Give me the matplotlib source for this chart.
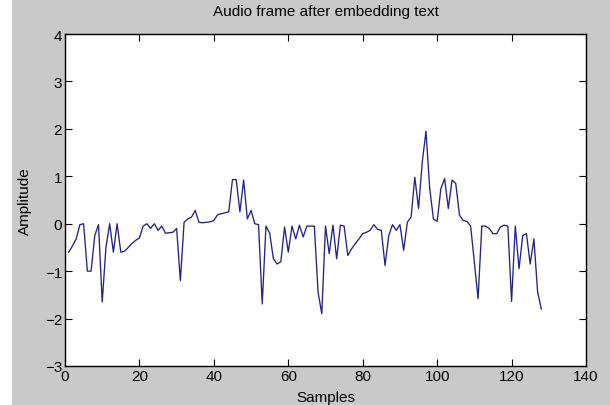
import numpy as np
import matplotlib
matplotlib.use("Agg")
from matplotlib import pyplot as plt
from matplotlib.patches import Rectangle

plt.rcParams['font.family'] = ['Liberation Sans', 'DejaVu Sans']

# amplitude per sample, 128 samples of the frame
amp_1_32 = [-0.60, -0.47, -0.32, -0.02, 0.00, -1.00, -1.00, -0.25, -0.02, -1.65,
            -0.50, 0.00, -0.60, 0.00, -0.60, -0.58, -0.50, -0.42, -0.35, -0.30,
            -0.05, 0.00, -0.10, 0.00, -0.14, -0.05, -0.20, -0.19, -0.18, -0.10,
            -1.20, 0.03]
amp_33_64 = [0.10, 0.14, 0.28, 0.03, 0.02, 0.03, 0.04, 0.07, 0.19, 0.21,
             0.23, 0.25, 0.93, 0.93, 0.25, 0.92, 0.10, 0.28, 0.00, -0.02,
             -1.69, -0.05, -0.20, -0.74, -0.85, -0.80, -0.07, -0.60, -0.05, -0.32,
             -0.03, -0.28]
amp_65_96 = [-0.05, -0.05, -0.05, -1.44, -1.90, -0.05, -0.63, -0.03, -0.74, -0.03,
             -0.05, -0.67, -0.53, -0.42, -0.32, -0.21, -0.18, -0.14, -0.02, -0.12,
             -0.14, -0.88, -0.25, -0.02, -0.14, -0.02, -0.56, 0.03, 0.14, 0.98,
             0.32, 1.30]
amp_97_128 = [1.95, 0.75, 0.10, 0.05, 0.74, 0.95, 0.32, 0.92, 0.85, 0.18,
              0.07, 0.05, -0.05, -0.81, -1.58, -0.05, -0.05, -0.10, -0.21, -0.21,
              -0.07, -0.03, -0.05, -1.64, -0.05, -0.95, -0.25, -0.21, -0.85, -0.32,
              -1.44, -1.80]
amplitude = amp_1_32 + amp_33_64 + amp_65_96 + amp_97_128
samples = np.arange(1, len(amplitude) + 1)

x_ticks = [0, 20, 40, 60, 80, 100, 120, 140]
y_ticks = [-3, -2, -1, 0, 1, 2, 3, 4]

fig = plt.figure(figsize=(6.1, 4.06), dpi=100, facecolor='#c9c9c9')
# white strip along the left edge of the window
fig.add_artist(Rectangle((0, 0), 12 / 610, 1, transform=fig.transFigure,
                         facecolor='white', edgecolor='none', zorder=0))
ax = fig.add_axes([65 / 610, 39 / 406, 521 / 610, 332 / 406])
ax.plot(samples, amplitude, color='#22228a', linewidth=0.95)

ax.set_xlim(0, 140)
ax.set_ylim(-3, 4)
ax.set_xticks(x_ticks)
ax.set_yticks(y_ticks)
ax.tick_params(direction='in', length=5, width=0.8, labelsize=11,
               top=True, right=True, pad=2)
for s in ax.spines.values():
    s.set_linewidth(1.0)

ax.set_title("Audio frame after embedding text", fontsize=11, pad=14)
ax.set_xlabel("Samples", fontsize=11, labelpad=5)
ax.set_ylabel("Amplitude", fontsize=11, labelpad=9)

fig.savefig("out.png", dpi=100, facecolor=fig.get_facecolor())
